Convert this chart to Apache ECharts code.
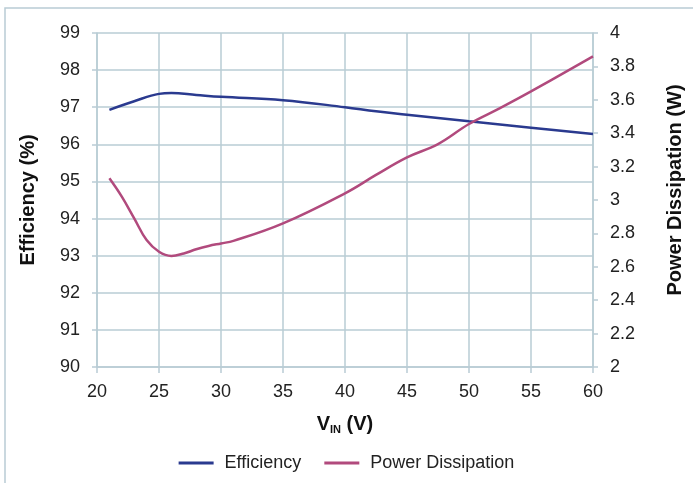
<!DOCTYPE html>
<html><head><meta charset="utf-8">
<script src="https://cdn.jsdelivr.net/npm/echarts@6/dist/echarts.min.js"></script>
<style>html,body{margin:0;padding:0;background:#fff}#c{width:693px;height:483px}</style>
</head><body><div id="c"></div>
<script>
const effX = [21, 23, 25, 26, 28, 30, 35, 40, 42.5, 45, 50, 55, 60];
const effY = [96.93, 97.16, 97.36, 97.38, 97.33, 97.28, 97.19, 97.0, 96.89, 96.8, 96.62, 96.45, 96.28];
const pwrX = [21, 22, 23, 24, 25, 26, 27, 28, 29, 30, 31, 35, 40, 42.5, 45, 47.5, 50, 52.5, 55, 60];
const pwrY = [3.13, 3.02, 2.89, 2.76, 2.69, 2.665, 2.68, 2.705, 2.725, 2.74, 2.755, 2.86, 3.04, 3.15, 3.255, 3.335, 3.455, 3.55, 3.65, 3.86];
const xTicks = [20, 25, 30, 35, 40, 45, 50, 55, 60];
const seriesNames = ['Efficiency', 'Power Dissipation'];

const GRID = '#b9ccd5';
const FONT = 'Liberation Sans';
const chart = echarts.init(document.getElementById('c'), null, {renderer: 'canvas'});
chart.setOption({
  animation: false,
  backgroundColor: '#fff',
  textStyle: {fontFamily: FONT},
  graphic: [{type: 'rect', shape: {x: 5, y: 8, width: 720, height: 520}, style: {fill: 'none', stroke: GRID, lineWidth: 1.5}, silent: true}],
  grid: {left: 97, right: 100, top: 33, bottom: 116, containLabel: false, outerBoundsMode: 'none'},
  legend: {
    top: 449, left: 'center', itemWidth: 35, itemHeight: 3, itemGap: 23,
    icon: 'rect',
    textStyle: {fontFamily: FONT, fontSize: 18, color: '#222', padding: [0, 0, 0, 6]},
    data: seriesNames
  },
  xAxis: {
    type: 'value', min: 20, max: 60, interval: 5,
    name: '{b|V}{s|IN}{b| (V)}', nameLocation: 'middle', nameGap: 47,
    nameTextStyle: {rich: {b: {fontFamily: FONT, fontSize: 20, fontWeight: 'bold', color: '#111'}, s: {fontFamily: FONT, fontSize: 11, fontWeight: 'bold', color: '#111', verticalAlign: 'bottom', padding: [10, 0, 0, 0]}}},
    axisLine: {show: true, lineStyle: {color: GRID, width: 1.5}},
    axisTick: {show: true, length: 6, lineStyle: {color: GRID, width: 1.5}},
    axisLabel: {fontFamily: FONT, fontSize: 18, color: '#222', margin: 16},
    splitLine: {show: true, lineStyle: {color: GRID, width: 1.5}}
  },
  yAxis: [{
    type: 'value', min: 90, max: 99, interval: 1, position: 'left',
    name: 'Efficiency (%)', nameLocation: 'middle', nameGap: 59, nameRotate: 90,
    nameTextStyle: {fontFamily: FONT, fontSize: 20, fontWeight: 'bold', color: '#111'},
    axisLine: {show: true, lineStyle: {color: GRID, width: 1.5}},
    axisTick: {show: true, length: 5, lineStyle: {color: GRID, width: 1.5}},
    axisLabel: {fontFamily: FONT, fontSize: 18, color: '#222', margin: 17},
    splitLine: {show: true, lineStyle: {color: GRID, width: 1.5}}
  }, {
    type: 'value', min: 2, max: 4, interval: 0.2, position: 'right',
    name: 'Power Dissipation (W)', nameLocation: 'middle', nameGap: 72, nameRotate: 90,
    nameTextStyle: {fontFamily: FONT, fontSize: 20, fontWeight: 'bold', color: '#111', padding: [0, 0, 0, 20]},
    axisLine: {show: true, lineStyle: {color: GRID, width: 1.5}},
    axisTick: {show: true, length: 5, lineStyle: {color: GRID, width: 1.5}},
    axisLabel: {fontFamily: FONT, fontSize: 18, color: '#222', margin: 17},
    splitLine: {show: false}
  }],
  series: [{
    name: seriesNames[0], type: 'line', yAxisIndex: 0, smooth: 0.4, showSymbol: false,
    color: '#2a3a8f', lineStyle: {width: 2.5, color: '#2a3a8f'},
    data: effX.map((x, i) => [x, effY[i]])
  }, {
    name: seriesNames[1], type: 'line', yAxisIndex: 1, smooth: 0.4, showSymbol: false,
    color: '#b14a7d', lineStyle: {width: 2.5, color: '#b14a7d'},
    data: pwrX.map((x, i) => [x, pwrY[i]])
  }]
});
</script></body></html>
